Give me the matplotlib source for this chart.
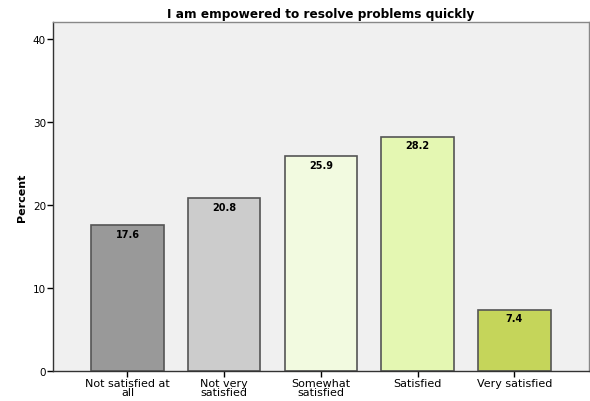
import matplotlib.pyplot as plt
import numpy as np

categories = ['Not satisfied at\nall', 'Not very\nsatisfied', 'Somewhat\nsatisfied',
              'Satisfied', 'Very satisfied']
percent = [17.6, 20.8, 25.9, 28.2, 7.4]
bar_colors = ['#999999', '#cccccc', '#f2fae0', '#e4f7b2', '#c5d55a']

fig = plt.figure(figsize=(5.9, 4.02), dpi=100)
ax = fig.add_axes([0.0898, 0.0746, 0.908, 0.868])
ax.set_facecolor('#f0f0f0')

x = np.arange(len(categories))
ax.bar(x, percent, width=0.75, color=bar_colors, edgecolor='#555555', linewidth=1.2)
for xi, v in zip(x, percent):
    ax.text(xi, v - 0.45, f'{v:.1f}', ha='center', va='top', fontsize=7,
            fontweight='bold', color='black')

ax.set_xlim(-0.77, 4.77)
ax.set_ylim(0, 42)
ax.set_yticks([0, 10, 20, 30, 40])
ax.set_xticks(x)
ax.set_xticklabels(categories, fontsize=8, linespacing=0.85)
ax.tick_params(axis='y', labelsize=7.5, length=4, width=1, pad=1)
ax.tick_params(axis='x', length=4, width=1, pad=1)
ax.set_ylabel('Percent', fontsize=8, fontweight='bold', labelpad=4)
ax.set_title('I am empowered to resolve problems quickly', fontsize=8.7,
             fontweight='bold', pad=4)

for s in ['left', 'bottom']:
    ax.spines[s].set_color('#333333')
    ax.spines[s].set_linewidth(1)
for s in ['top', 'right']:
    ax.spines[s].set_color('#888888')
    ax.spines[s].set_linewidth(1)

fig.savefig('out.png', dpi=100)
